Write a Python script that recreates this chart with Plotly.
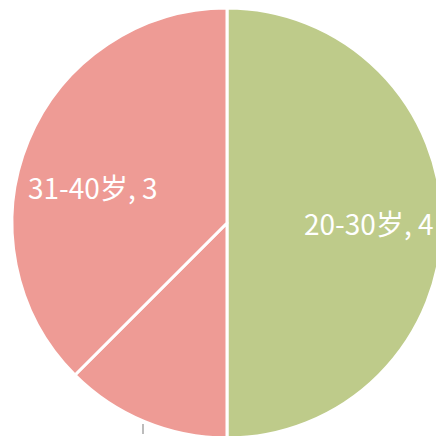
import plotly.graph_objects as go

labels = ["20-30岁", "41-50岁", "31-40岁"]
values = [4, 1, 3]
colors = ["#BECB8A", "#EE9B95", "#EE9B95"]

W = 450
# label anchor positions (paper coords of the 450px canvas), layout constants
label_pos = {
    "20-30岁": (368 / W, 1 - 223 / W),
    "31-40岁": (92 / W, 1 - 187 / W),
}

fig = go.Figure(go.Pie(
    labels=labels,
    values=values,
    sort=False,
    direction="clockwise",
    rotation=0,
    marker=dict(colors=colors, line=dict(color="white", width=3)),
    textinfo="none",
    showlegend=False,
    hoverinfo="label+value",
    domain=dict(x=[12 / W, 442 / W], y=[12 / W, 442 / W]),
))

for lab, val in zip(labels, values):
    if lab in label_pos:
        x, y = label_pos[lab]
        fig.add_annotation(
            x=x, y=y, xref="paper", yref="paper",
            text=f"{lab}, {val}", showarrow=False,
            font=dict(family="Noto Sans CJK SC", size=28, color="white"),
            xanchor="center", yanchor="middle",
        )
    else:
        # outside label (falls below the visible area), with leader line
        fig.add_annotation(
            x=143 / W, y=1 - 424 / W, xref="paper", yref="paper",
            text=f"{lab}, {val}", showarrow=True, arrowhead=0,
            arrowcolor="#A6A6A6", arrowwidth=1.5,
            ax=0, ay=45,
            font=dict(family="Noto Sans CJK SC", size=20, color="#595959"),
        )

fig.update_layout(
    width=W, height=W,
    margin=dict(l=0, r=0, t=0, b=0),
    paper_bgcolor="white",
)
fig.write_html(
    "out.html",
    config=dict(displayModeBar=False),
    post_script="document.body.style.margin='0';document.body.style.overflow='hidden';",
)
